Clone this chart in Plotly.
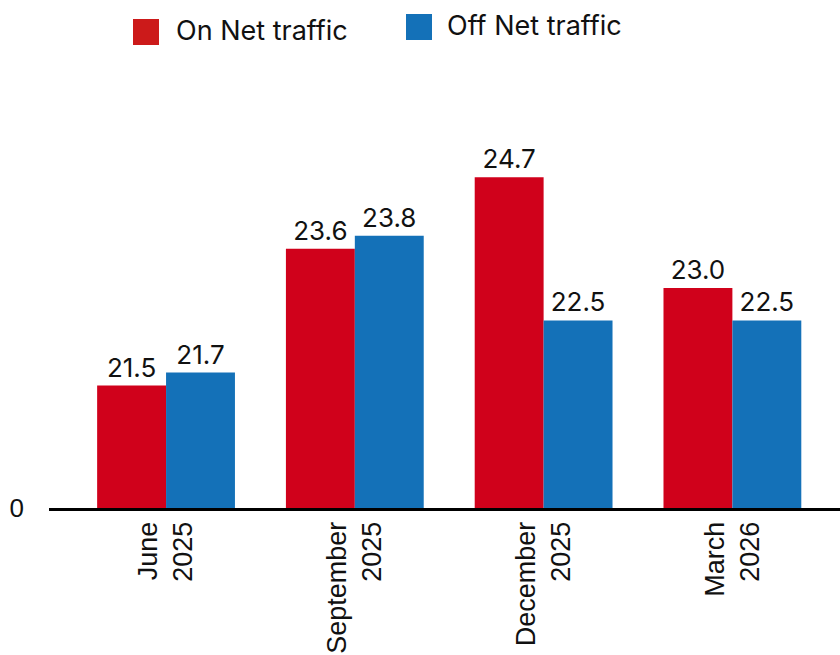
import plotly.graph_objects as go

# Quarterly traffic figures
periods = ["June<br>2025", "September<br>2025", "December<br>2025", "March<br>2026"]
on_net = [21.5, 23.6, 24.7, 23.0]
off_net = [21.7, 23.8, 22.5, 22.5]
series_names = ["On Net traffic", "Off Net traffic"]

RED = "#D0011B"
BLUE = "#1471B8"
LEGEND_RED = "#CC1A1A"
LABEL_FONT = "Inter"
TICK_FONT = "Liberation Sans, Arial, sans-serif"

W, H = 840, 655
ML, MR, MT, MB = 49, 0, 90, 147
axis_base = 19.62
axis_top = 26.04

fig = go.Figure()
for name, vals, col in [(series_names[0], on_net, RED), (series_names[1], off_net, BLUE)]:
    fig.add_trace(go.Bar(
        x=periods, y=vals, name=name, marker=dict(color=col, line=dict(width=0)),
        texttemplate="%{y:.1f}", textposition="outside",
        textfont=dict(family=LABEL_FONT, size=26, color="#111111"),
        cliponaxis=False, showlegend=False,
    ))

# legend drawn as swatches + labels above the plot
plot_w = W - ML - MR
plot_h = H - MT - MB


def px_x(px):
    return (px - ML) / plot_w


def px_y(py):
    return (H - MB - py) / plot_h


legend_items = [
    (series_names[0], LEGEND_RED, 133, 19, 174, 31),
    (series_names[1], BLUE, 406, 14, 445, 25),
]
shapes = []
annotations = []
for label, col, sx, sy, tx, ty in legend_items:
    shapes.append(dict(type="rect", xref="paper", yref="paper",
                       x0=px_x(sx), x1=px_x(sx + 26), y0=px_y(sy + 26), y1=px_y(sy),
                       fillcolor=col, line=dict(width=0)))
    annotations.append(dict(text=label, xref="paper", yref="paper",
                            x=px_x(tx), y=px_y(ty), xanchor="left", yanchor="middle",
                            showarrow=False,
                            font=dict(family=LABEL_FONT, size=27, color="#111111")))

fig.update_layout(
    width=W, height=H,
    margin=dict(l=ML, r=MR, t=MT, b=MB),
    paper_bgcolor="white", plot_bgcolor="white",
    barmode="group", bargap=0.27, bargroupgap=0,
    shapes=shapes, annotations=annotations,
    xaxis=dict(range=[-0.62, 3.57], tickangle=-90,
               tickfont=dict(family=TICK_FONT, size=27, color="#111111"),
               showline=True, linecolor="black", linewidth=3,
               showgrid=False, ticks="", zeroline=False),
    yaxis=dict(range=[axis_base, axis_top], tickmode="array",
               tickvals=[axis_base + 0.001], ticktext=["0"],
               tickfont=dict(family=TICK_FONT, size=26, color="#111111"),
               ticklabelstandoff=24,
               showgrid=False, zeroline=False, showline=False, ticks=""),
)

fig.write_html("out.html")
